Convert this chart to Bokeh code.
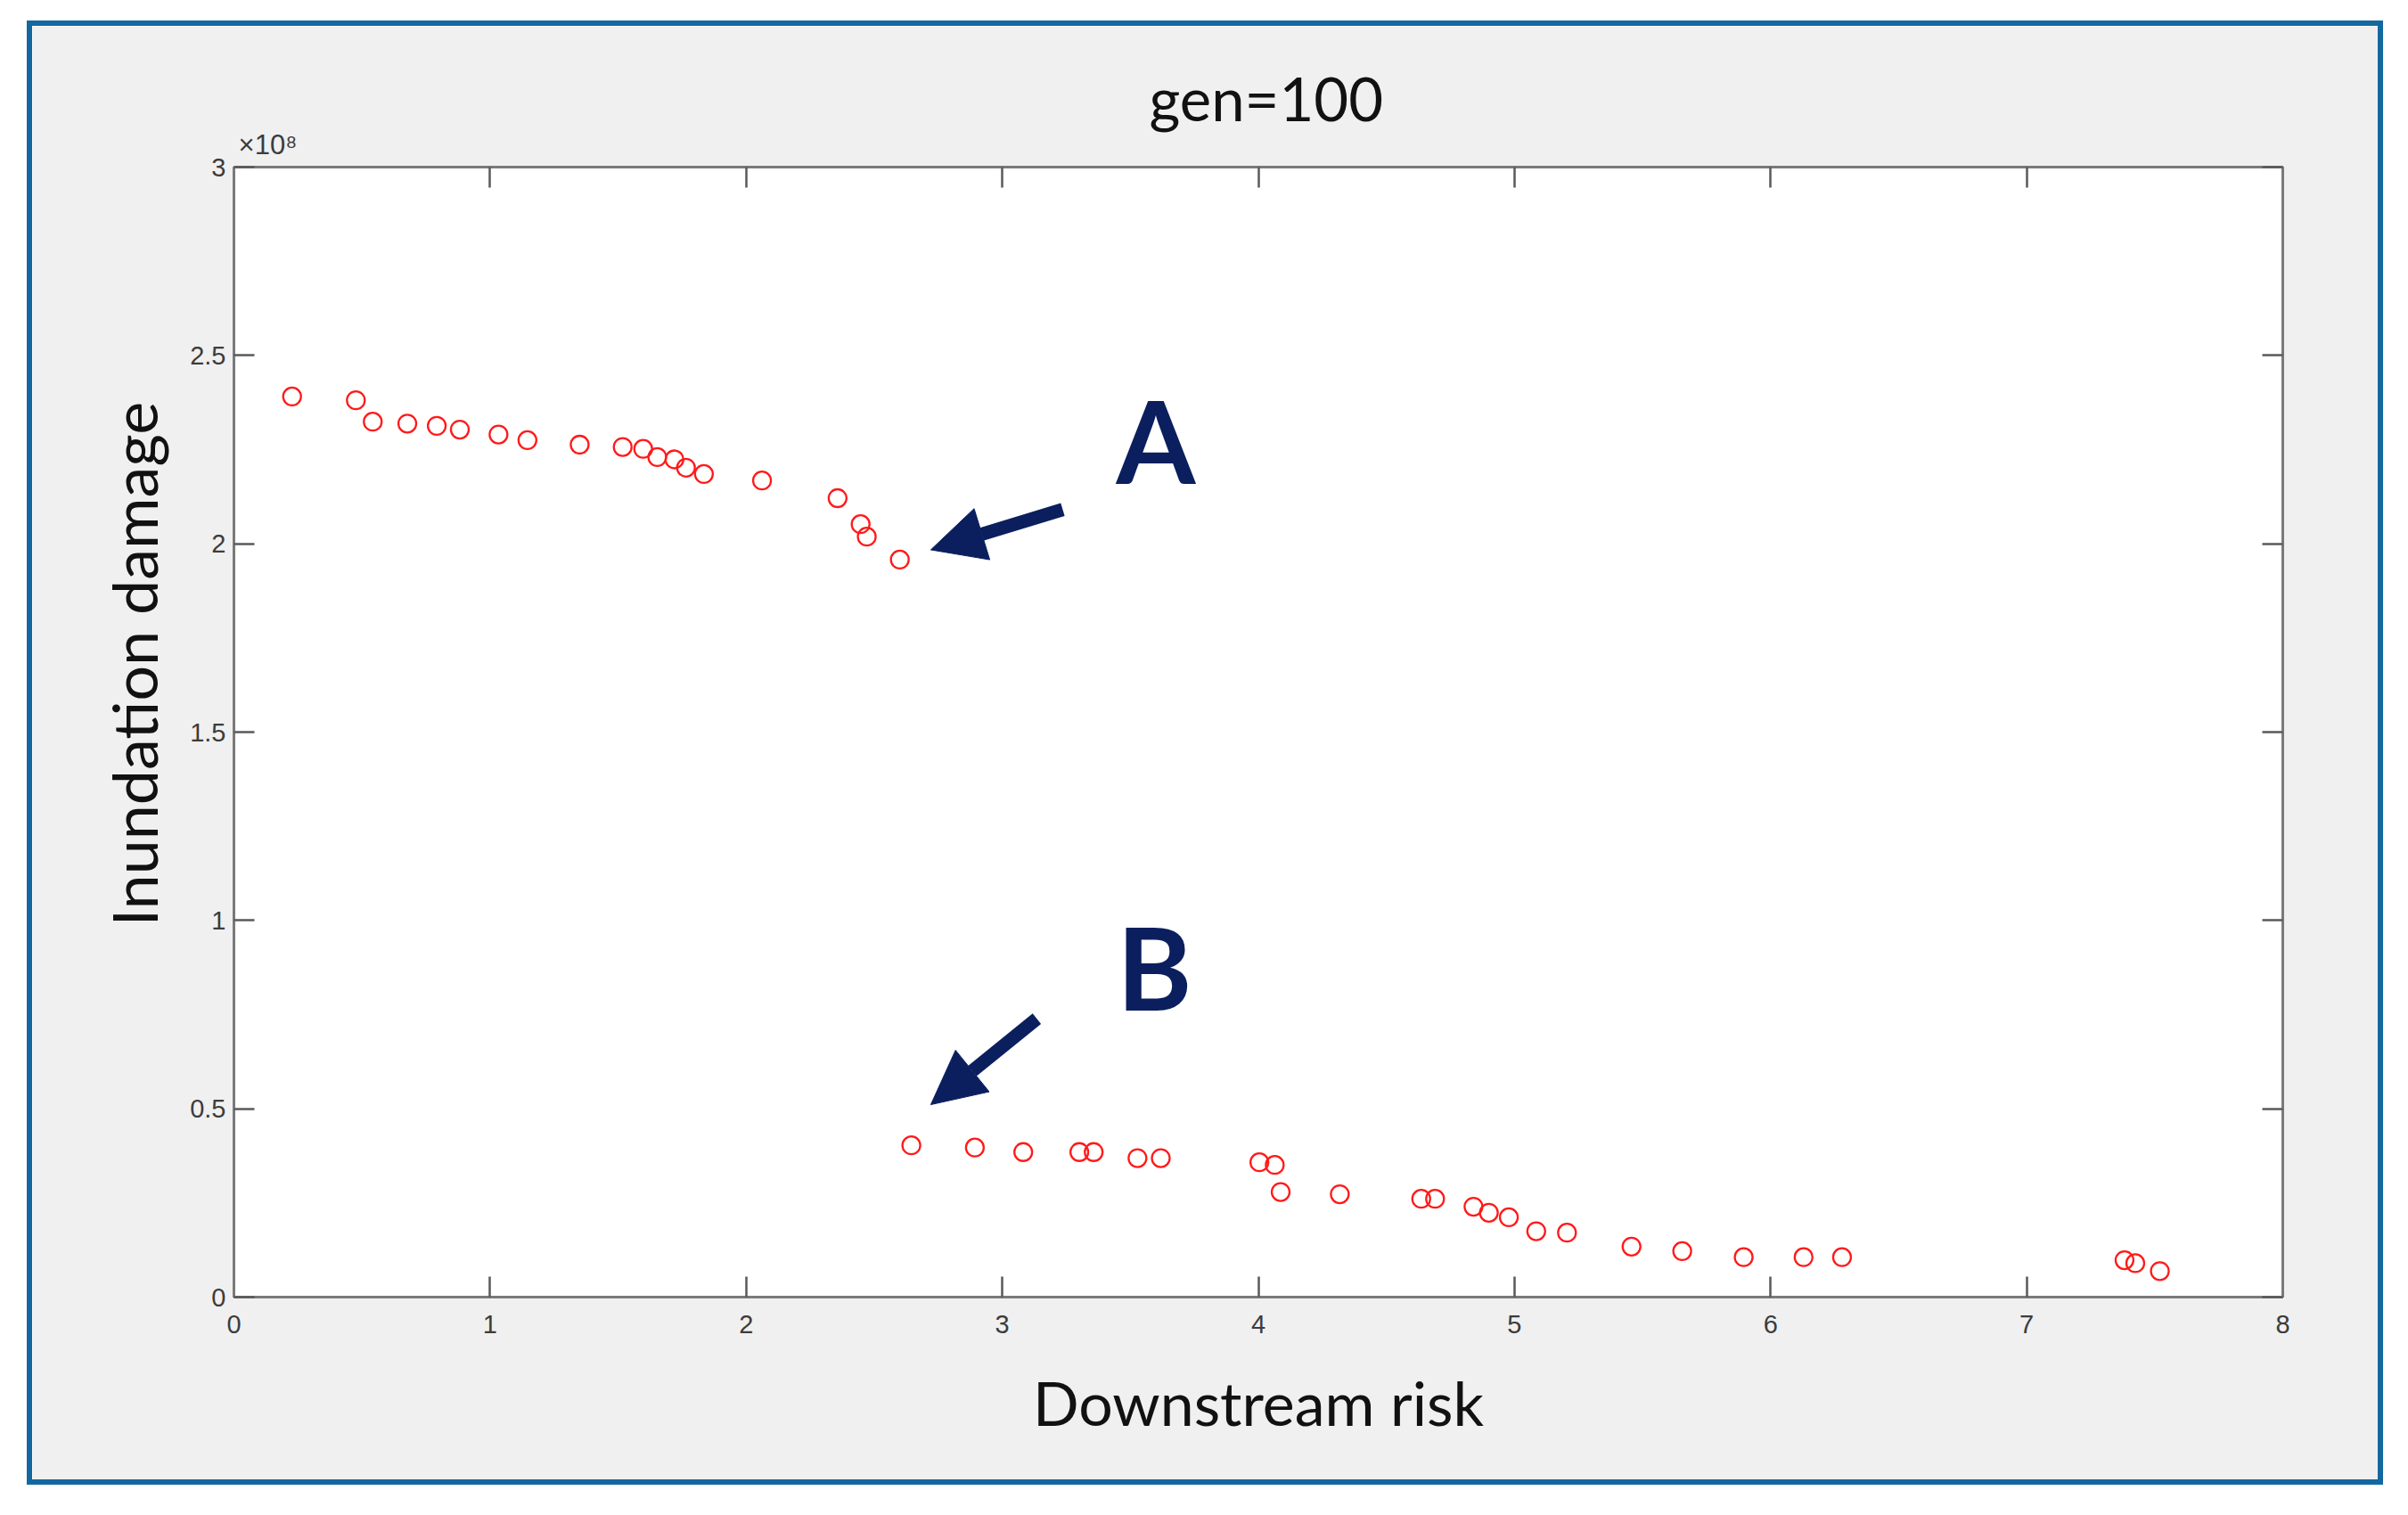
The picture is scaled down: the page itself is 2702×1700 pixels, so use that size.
import math
from bokeh.plotting import figure
from bokeh.models import (Range1d, LinearAxis, FixedTicker, CustomJSTickFormatter,
                          Label, Arrow, NormalHead, Title)
from bokeh.embed import file_html
from bokeh.resources import INLINE

# ---- data ----
risk_A = [0.227, 0.476, 0.542, 0.677, 0.792, 0.882, 1.033, 1.146, 1.350, 1.518,
          1.598, 1.653, 1.720, 1.765, 1.835, 2.062, 2.357, 2.447, 2.471, 2.600]
damage_A = [2.391e8, 2.381e8, 2.324e8, 2.319e8, 2.313e8, 2.303e8, 2.290e8, 2.275e8,
            2.263e8, 2.257e8, 2.252e8, 2.230e8, 2.224e8, 2.202e8, 2.185e8, 2.168e8,
            2.121e8, 2.052e8, 2.019e8, 1.958e8]
risk_B = [2.645, 2.893, 3.082, 3.301, 3.357, 3.528, 3.619, 4.004, 4.064, 4.087,
          4.318, 4.636, 4.690, 4.840, 4.900, 4.978, 5.085, 5.205, 5.457, 5.655,
          5.895, 6.129, 6.279, 7.382, 7.424, 7.520]
damage_B = [0.403e8, 0.397e8, 0.385e8, 0.385e8, 0.385e8, 0.369e8, 0.369e8, 0.358e8,
            0.351e8, 0.279e8, 0.273e8, 0.261e8, 0.261e8, 0.240e8, 0.224e8, 0.212e8,
            0.175e8, 0.171e8, 0.134e8, 0.122e8, 0.106e8, 0.106e8, 0.106e8, 0.098e8,
            0.090e8, 0.069e8]

x_ticks = [0, 1, 2, 3, 4, 5, 6, 7, 8]
y_ticks = [0, 0.5e8, 1.0e8, 1.5e8, 2.0e8, 2.5e8, 3.0e8]
exponent_tick = [0.132]
exponent_text = "\u00d710\u2078"

title_text = "gen=100"
x_label_text = "Downstream risk"
y_label_text = "Inundation damage"
ann_labels = ["A", "B"]
ann_label_x = [3.600, 3.594]
ann_label_y = [2.276e8, 0.877e8]
arrow_x_start = [3.236, 3.135]
arrow_y_start = [2.091e8, 0.739e8]
arrow_x_end = [2.721, 2.721]
arrow_y_end = [1.984e8, 0.511e8]

# ---- styles ----
AXIS_COLOR = "#7a7a7a"
TICK_FONT = "Liberation Sans"
NAVY = "#0b1f5e"

p = figure(width=2644, height=1643, output_backend="svg", toolbar_location=None,
           x_range=Range1d(0, 8), y_range=Range1d(0, 3e8),
           min_border_left=226, min_border_right=119, min_border_top=158,
           min_border_bottom=217)
p.margin = (23, 0, 0, 30)
p.styles = {"border": "6px solid #1468a0"}
p.background_fill_color = "white"
p.border_fill_color = "#f0f0f0"
p.outline_line_color = AXIS_COLOR
p.outline_line_width = 2
p.xgrid.visible = False
p.ygrid.visible = False

p.title.text = title_text
p.title.align = "left"
p.title.offset = 1027
p.title.text_font = "Lato"
p.title.text_font_size = "67px"
p.title.text_font_style = "normal"
p.title.text_color = "#111111"
p.title.standoff = -16


def style_axis(ax, show_labels, standoff):
    ax.axis_line_color = AXIS_COLOR
    ax.axis_line_width = 3
    ax.major_tick_line_color = "#5a5a5a"
    ax.major_tick_line_width = 2.5
    ax.major_tick_in = 23
    ax.major_tick_out = 0
    ax.minor_tick_line_color = None
    ax.major_label_standoff = standoff
    if show_labels:
        ax.major_label_text_font = TICK_FONT
        ax.major_label_text_font_size = "29px"
        ax.major_label_text_color = "#3c3c3c"
    else:
        ax.major_label_text_font_size = "0px"
        ax.major_label_text_color = None


xa = p.xaxis[0]
xa.ticker = FixedTicker(ticks=x_ticks)
style_axis(xa, True, 20)
xa.axis_label = x_label_text
xa.axis_label_text_font = "Lato"
xa.axis_label_text_font_size = "68px"
xa.axis_label_text_font_style = "normal"
xa.axis_label_text_color = "#111111"
xa.axis_label_standoff = 34

ya = p.yaxis[0]
ya.ticker = FixedTicker(ticks=y_ticks)
ya.formatter = CustomJSTickFormatter(code="return (tick/1e8).toString();")
style_axis(ya, True, 9)

# y-axis title, placed as a side title so that it can sit above the axis centre
p.add_layout(Title(text=y_label_text, align="left", offset=416, standoff=38,
                   text_font="Lato", text_font_size="70px", text_font_style="normal",
                   text_color="#111111"), "left")

top_axis = LinearAxis(ticker=FixedTicker(ticks=x_ticks))
style_axis(top_axis, False, 0)
p.add_layout(top_axis, "above")
right_axis = LinearAxis(ticker=FixedTicker(ticks=y_ticks))
style_axis(right_axis, False, 0)
p.add_layout(right_axis, "right")

# exponent marker above the y axis, drawn as the label of an extra top axis
exp_axis = LinearAxis(ticker=FixedTicker(ticks=exponent_tick),
                      formatter=CustomJSTickFormatter(code="return '%s';" % exponent_text))
exp_axis.axis_line_color = None
exp_axis.major_tick_line_color = None
exp_axis.minor_tick_line_color = None
exp_axis.major_label_standoff = 2
exp_axis.major_label_text_font = TICK_FONT
exp_axis.major_label_text_font_size = "31px"
exp_axis.major_label_text_color = "#3c3c3c"
p.add_layout(exp_axis, "above")

# ---- data marks ----
for xs, ys in ((risk_A, damage_A), (risk_B, damage_B)):
    p.scatter(xs, ys, marker="circle", size=20, fill_color=None,
              line_color="#ff1a1a", line_width=2.3)

# ---- annotations ----
for t, lx, ly in zip(ann_labels, ann_label_x, ann_label_y):
    p.add_layout(Label(x=lx, y=ly, text=t, text_font="Lato", text_font_style="bold",
                       text_font_size="128px", text_color=NAVY, text_align="center",
                       text_baseline="alphabetic"))

for xs0, ys0, xe, ye in zip(arrow_x_start, arrow_y_start, arrow_x_end, arrow_y_end):
    p.add_layout(Arrow(end=NormalHead(size=60, fill_color=NAVY, line_color=NAVY,
                                      line_width=1),
                       x_start=xs0, y_start=ys0, x_end=xe, y_end=ye,
                       line_color=NAVY, line_width=15))

open("out.html", "w").write(file_html(p, INLINE))
